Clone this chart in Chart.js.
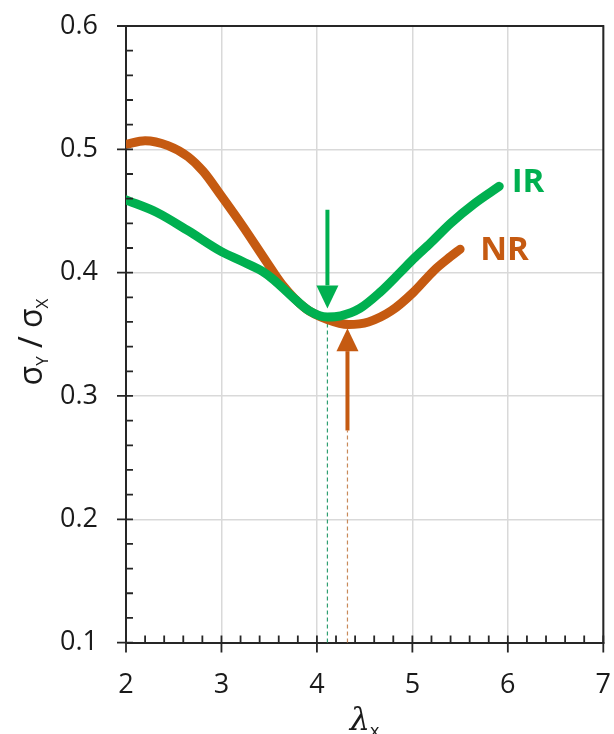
<!DOCTYPE html>
<html>
<head>
<meta charset="utf-8">
<script src="https://cdn.jsdelivr.net/npm/chart.js@4.4.0/dist/chart.umd.min.js"></script>
<style>
  body { margin: 0; background: #fff; }
  canvas { display: block; }
</style>
</head>
<body>
<canvas id="myChart" width="614" height="734"></canvas>
<script>
// stress ratio vs. draw ratio, two cases
const irX = [2.0, 2.32, 2.65, 3.0, 3.22, 3.43, 3.55, 3.72, 3.92, 4.11, 4.25, 4.45, 4.66, 4.87, 5.01, 5.19, 5.4, 5.65, 5.91];
const irY = [0.459, 0.449, 0.434, 0.417, 0.409, 0.401, 0.394, 0.382, 0.369, 0.364, 0.365, 0.371, 0.384, 0.400, 0.411, 0.424, 0.440, 0.456, 0.470];

const nrX = [2.0, 2.2, 2.44, 2.65, 2.81, 3.0, 3.22, 3.47, 3.63, 3.88, 4.11, 4.33, 4.54, 4.78, 5.01, 5.23, 5.4, 5.5];
const nrY = [0.504, 0.507, 0.503, 0.494, 0.482, 0.462, 0.438, 0.409, 0.391, 0.371, 0.362, 0.358, 0.360, 0.369, 0.384, 0.402, 0.413, 0.419];

const xTicks = [2, 3, 4, 5, 6, 7];
const yTicks = [0.1, 0.2, 0.3, 0.4, 0.5, 0.6];

// minimum markers: arrow position, tail, tip, dashed drop top
const arrowX = [4.11, 4.32];
const arrowTail = [0.451, 0.272];
const arrowTip = [0.371, 0.355];
const dropTop = [0.366, 0.272];

// series names drawn next to the curve ends
const names = ["IR", "NR"];
const nameX = [6.04, 5.71];
const nameY = [0.465, 0.410];

const green = "#00b050";
const brown = "#c55a11";
const colors = [green, brown];
const dashColors = ["#2f9f72", "#c98a5a"];

function pts(xs, ys) {
    return xs.map((x, i) => ({ x: x, y: ys[i] }));
}

// keep the plot box where the layout padding puts it
function noLabelPadding(s) {
    s.paddingTop = 0;
    s.paddingBottom = 0;
    s.paddingLeft = 0;
    s.paddingRight = 0;
}

const decor = {
    id: "decor",
    beforeDatasetsDraw(chart) {
        const { ctx, scales: { x, y } } = chart;
        ctx.save();
        ctx.lineWidth = 1.2;
        ctx.setLineDash([4, 3]);
        arrowX.forEach((v, i) => {
            ctx.strokeStyle = dashColors[i];
            ctx.beginPath();
            ctx.moveTo(x.getPixelForValue(v), y.getPixelForValue(0.1));
            ctx.lineTo(x.getPixelForValue(v), y.getPixelForValue(dropTop[i]));
            ctx.stroke();
        });
        ctx.restore();
    },
    afterDatasetsDraw(chart) {
        const { ctx, scales: { x, y } } = chart;
        ctx.save();
        // arrows
        arrowX.forEach((v, i) => {
            const px = x.getPixelForValue(v);
            const tail = y.getPixelForValue(arrowTail[i]);
            const tip = y.getPixelForValue(arrowTip[i]);
            const dir = tip > tail ? 1 : -1;
            const head = 23, half = 11;
            ctx.strokeStyle = colors[i];
            ctx.fillStyle = colors[i];
            ctx.lineWidth = 4;
            ctx.beginPath();
            ctx.moveTo(px, tail);
            ctx.lineTo(px, tip - dir * head);
            ctx.stroke();
            ctx.beginPath();
            ctx.moveTo(px, tip);
            ctx.lineTo(px - half, tip - dir * head);
            ctx.lineTo(px + half, tip - dir * head);
            ctx.closePath();
            ctx.fill();
        });
        // series names
        ctx.font = "bold 33px 'Open Sans'";
        ctx.textBaseline = "alphabetic";
        ctx.textAlign = "left";
        names.forEach((n, i) => {
            ctx.fillStyle = colors[i];
            ctx.fillText(n, x.getPixelForValue(nameX[i]), y.getPixelForValue(nameY[i]));
        });
        ctx.restore();
    },
    afterDraw(chart) {
        const { ctx, chartArea: a, scales: { x, y } } = chart;
        ctx.save();
        ctx.strokeStyle = "#262626";
        ctx.lineWidth = 2;
        ctx.beginPath();
        ctx.moveTo(a.left - 9, a.top);
        ctx.lineTo(a.right, a.top);
        ctx.lineTo(a.right, a.bottom);
        ctx.stroke();

        // tick marks, majors cross the axis
        ctx.lineWidth = 1.8;
        ctx.beginPath();
        for (let i = 0; i <= 25; i++) {
            const px = x.getPixelForValue(2 + i * 0.2);
            ctx.moveTo(px, a.bottom + (i % 5 === 0 ? 10 : 0));
            ctx.lineTo(px, a.bottom - 7);
            const py = y.getPixelForValue(0.1 + i * 0.02);
            ctx.moveTo(a.left - (i % 5 === 0 ? 9 : 0), py);
            ctx.lineTo(a.left + 7, py);
        }
        ctx.stroke();

        // y title: sigma_Y / sigma_X
        ctx.fillStyle = "#1a1a1a";
        ctx.textBaseline = "alphabetic";
        ctx.textAlign = "left";
        const parts = [
            ["σ", "32px 'Open Sans'", 0],
            ["Y", "17px 'Open Sans'", 6],
            [" / ", "32px 'Open Sans'", 0],
            ["σ", "32px 'Open Sans'", 0],
            ["X", "17px 'Open Sans'", 6]
        ];
        let total = 0;
        parts.forEach(p => { ctx.font = p[1]; total += ctx.measureText(p[0]).width; });
        ctx.translate(42, 342);
        ctx.rotate(-Math.PI / 2);
        let cx = -total / 2;
        parts.forEach(p => {
            ctx.font = p[1];
            ctx.fillText(p[0], cx, p[2]);
            cx += ctx.measureText(p[0]).width;
        });
        ctx.setTransform(1, 0, 0, 1, 0, 0);

        // x title: lambda_x
        const mid = (a.left + a.right) / 2;
        ctx.font = "italic 32px 'DejaVu Serif'";
        const lw = ctx.measureText("λ").width;
        ctx.font = "18px 'Open Sans'";
        const sw = ctx.measureText("x").width;
        let lx = mid - (lw + sw) / 2;
        ctx.font = "italic 32px 'DejaVu Serif'";
        ctx.fillText("λ", lx, 730);
        ctx.font = "18px 'Open Sans'";
        ctx.fillText("x", lx + lw, 737);
        ctx.restore();
    }
};

let chart = new Chart(document.getElementById("myChart"), {
    type: "line",
    data: {
        datasets: [
            { label: names[0], data: pts(irX, irY), borderColor: green },
            { label: names[1], data: pts(nrX, nrY), borderColor: brown }
        ]
    },
    options: {
        responsive: false,
        animation: false,
        devicePixelRatio: 1,
        layout: { padding: { top: 26, right: 10.7, left: 0, bottom: 0 } },
        elements: {
            line: {
                borderWidth: 9,
                borderCapStyle: "round",
                borderJoinStyle: "round",
                cubicInterpolationMode: "monotone",
                fill: false
            },
            point: { radius: 0 }
        },
        plugins: { legend: { display: false }, tooltip: { enabled: false } },
        scales: {
            x: {
                type: "linear",
                min: 2,
                max: 7,
                afterFit: s => { s.height = 91.4; noLabelPadding(s); },
                afterBuildTicks: s => { s.ticks = xTicks.map(v => ({ value: v })); },
                grid: { color: "#d9d9d9", lineWidth: 1.5, drawTicks: false },
                border: { display: true, color: "#262626", width: 2 },
                ticks: { padding: 27, color: "#1a1a1a", font: { family: "'Open Sans'", size: 27 } }
            },
            y: {
                type: "linear",
                min: 0.1,
                max: 0.6,
                afterFit: s => { s.width = 126; noLabelPadding(s); },
                afterBuildTicks: s => { s.ticks = yTicks.map(v => ({ value: v })); },
                grid: { color: "#d9d9d9", lineWidth: 1.5, drawTicks: false },
                border: { display: true, color: "#262626", width: 2 },
                ticks: {
                    padding: 28,
                    color: "#1a1a1a",
                    font: { family: "'Open Sans'", size: 27 },
                    callback: v => v.toFixed(1)
                }
            }
        }
    },
    plugins: [decor]
});
</script>
</body>
</html>
